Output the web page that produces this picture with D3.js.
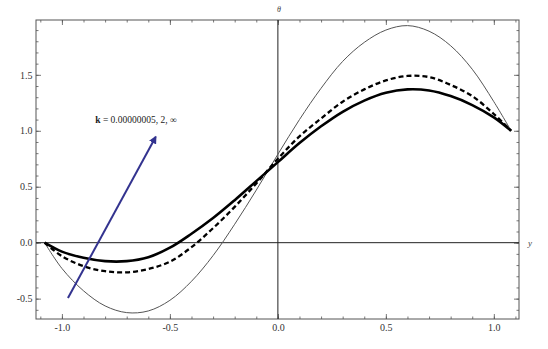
<!DOCTYPE html>
<html>
<head>
<meta charset="utf-8">
<script src="https://cdn.jsdelivr.net/npm/d3@7"></script>
<style>
  body { margin: 0; background: #fff; }
  svg { display: block; font-family: "Liberation Serif", "Times New Roman", serif; }
  .tick text { fill: #333; font-size: 10px; font-family: "Liberation Serif", "Times New Roman", serif; }
  .tick line { stroke: #555; stroke-width: 0.8; }
  .domain { display: none; }
</style>
</head>
<body>
<svg id="chart"></svg>
<script>
/*** DATA ***/
const yPos = [-1.08, -1.0, -0.9, -0.8, -0.7, -0.6, -0.5, -0.4, -0.3, -0.2, -0.1, 0,
              0.1, 0.2, 0.3, 0.4, 0.5, 0.6, 0.7, 0.8, 0.9, 1.0, 1.08];
// k = 0.00000005 (thin)
const thetaSmallK = [0, -0.23, -0.43, -0.565, -0.625, -0.61, -0.515, -0.345, -0.115, 0.165, 0.47, 0.79,
                     1.1, 1.38, 1.62, 1.79, 1.90, 1.94, 1.89, 1.76, 1.55, 1.26, 1.0];
// k = 2 (dashed)
const thetaK2 = [0, -0.12, -0.21, -0.255, -0.265, -0.235, -0.17, -0.04, 0.13, 0.32, 0.53, 0.75,
                 0.95, 1.11, 1.26, 1.37, 1.45, 1.49, 1.48, 1.41, 1.31, 1.15, 1.0];
// k = infinity (thick)
const thetaInf = [0, -0.08, -0.135, -0.165, -0.165, -0.13, -0.045, 0.08, 0.22, 0.38, 0.55, 0.72,
                  0.89, 1.04, 1.17, 1.27, 1.34, 1.37, 1.36, 1.31, 1.23, 1.12, 1.0];

const xMajor = [-1.0, -0.5, 0.0, 0.5, 1.0];
const xMinor = d3.range(-11, 12).map(i => i / 10);
const yMajor = [-0.5, 0.0, 0.5, 1.0, 1.5];
const yMinor = d3.range(-6, 20).map(i => i / 10);

const labelText = "k = 0.00000005, 2, \u221E";
const arrowFrom = [-0.972, -0.495];
const arrowTo = [-0.566, 0.945];
const labelAt = [-0.657, 1.095];

/*** DIMENSIONS ***/
const W = 548, H = 349;
const frame = {left: 36, right: 519, top: 20, bottom: 319};

const svg = d3.select('#chart').attr('width', W).attr('height', H);

const x = d3.scaleLinear().domain([-1.12, 1.1165]).range([frame.left, frame.right]);
const y = d3.scaleLinear().domain([-0.682, 1.99]).range([frame.bottom, frame.top]);

/*** AXES (Mathematica frame style, ticks inside) ***/
const fmt = d3.format('.1f');
function hyphen(v) { return fmt(v).replace('\u2212', '-'); }

svg.append('g').attr('transform', `translate(0,${frame.bottom})`)
  .call(d3.axisBottom(x).tickValues(xMinor).tickSize(-2.5).tickFormat(''));
svg.append('g').attr('transform', `translate(0,${frame.bottom})`)
  .call(d3.axisBottom(x).tickValues(xMajor).tickSize(-5).tickPadding(5).tickFormat(hyphen));
svg.append('g').attr('transform', `translate(0,${frame.top})`)
  .call(d3.axisTop(x).tickValues(xMinor).tickSize(-2.5).tickFormat(''));
svg.append('g').attr('transform', `translate(0,${frame.top})`)
  .call(d3.axisTop(x).tickValues(xMajor).tickSize(-5).tickFormat(''));

svg.append('g').attr('transform', `translate(${frame.left},0)`)
  .call(d3.axisLeft(y).tickValues(yMinor).tickSize(-2.5).tickFormat(''));
svg.append('g').attr('transform', `translate(${frame.left},0)`)
  .call(d3.axisLeft(y).tickValues(yMajor).tickSize(-5).tickPadding(3.5).tickFormat(hyphen));
svg.append('g').attr('transform', `translate(${frame.right},0)`)
  .call(d3.axisRight(y).tickValues(yMinor).tickSize(-2.5).tickFormat(''));
svg.append('g').attr('transform', `translate(${frame.right},0)`)
  .call(d3.axisRight(y).tickValues(yMajor).tickSize(-5).tickFormat(''));

// frame
svg.append('rect')
  .attr('x', frame.left).attr('y', frame.top)
  .attr('width', frame.right - frame.left).attr('height', frame.bottom - frame.top)
  .attr('fill', 'none').attr('stroke', '#555').attr('stroke-width', 1);

// zero axes
svg.append('line')
  .attr('x1', frame.left).attr('x2', frame.right)
  .attr('y1', y(0)).attr('y2', y(0))
  .attr('stroke', '#222').attr('stroke-width', 1);
svg.append('line')
  .attr('x1', x(0)).attr('x2', x(0))
  .attr('y1', frame.top).attr('y2', frame.bottom)
  .attr('stroke', '#222').attr('stroke-width', 1);

// axis labels
svg.append('text')
  .attr('x', x(0) + 1).attr('y', 12)
  .attr('text-anchor', 'middle')
  .style('font-style', 'italic').style('font-size', '8px').attr('fill', '#444')
  .text('\u03B8');
svg.append('text')
  .attr('x', frame.right + 9).attr('y', y(0) + 3)
  .style('font-style', 'italic').style('font-size', '9px').attr('fill', '#444')
  .text('y');

/*** CURVES ***/
const line = d3.line()
  .x(d => x(d[0]))
  .y(d => y(d[1]))
  .curve(d3.curveCatmullRom.alpha(0.5));

const series = [
  {vals: thetaSmallK, stroke: '#555', width: 1, dash: null},
  {vals: thetaK2, stroke: '#000', width: 2.3, dash: '5,3'},
  {vals: thetaInf, stroke: '#000', width: 2.6, dash: null}
];

svg.append('g').selectAll('path')
  .data(series)
  .enter().append('path')
    .attr('fill', 'none')
    .attr('stroke', d => d.stroke)
    .attr('stroke-width', d => d.width)
    .attr('stroke-dasharray', d => d.dash)
    .attr('d', d => line(yPos.map((v, i) => [v, d.vals[i]])));

/*** ARROW + LABEL ***/
svg.append('defs').append('marker')
  .attr('id', 'head')
  .attr('viewBox', '0 0 10 10')
  .attr('refX', 8).attr('refY', 5)
  .attr('markerWidth', 4).attr('markerHeight', 4)
  .attr('orient', 'auto')
  .append('path').attr('d', 'M0,0 L10,5 L0,10 Z').attr('fill', '#33338f');

svg.append('line')
  .attr('x1', x(arrowFrom[0])).attr('y1', y(arrowFrom[1]))
  .attr('x2', x(arrowTo[0])).attr('y2', y(arrowTo[1]))
  .attr('stroke', '#33338f').attr('stroke-width', 2)
  .attr('marker-end', 'url(#head)');

const lab = svg.append('text')
  .attr('x', x(labelAt[0])).attr('y', y(labelAt[1]) + 3)
  .attr('text-anchor', 'middle')
  .style('font-size', '9.5px').attr('fill', '#222');
lab.append('tspan').style('font-weight', 'bold').text(labelText.slice(0, 1));
lab.append('tspan').text(labelText.slice(1));
</script>
</body>
</html>
